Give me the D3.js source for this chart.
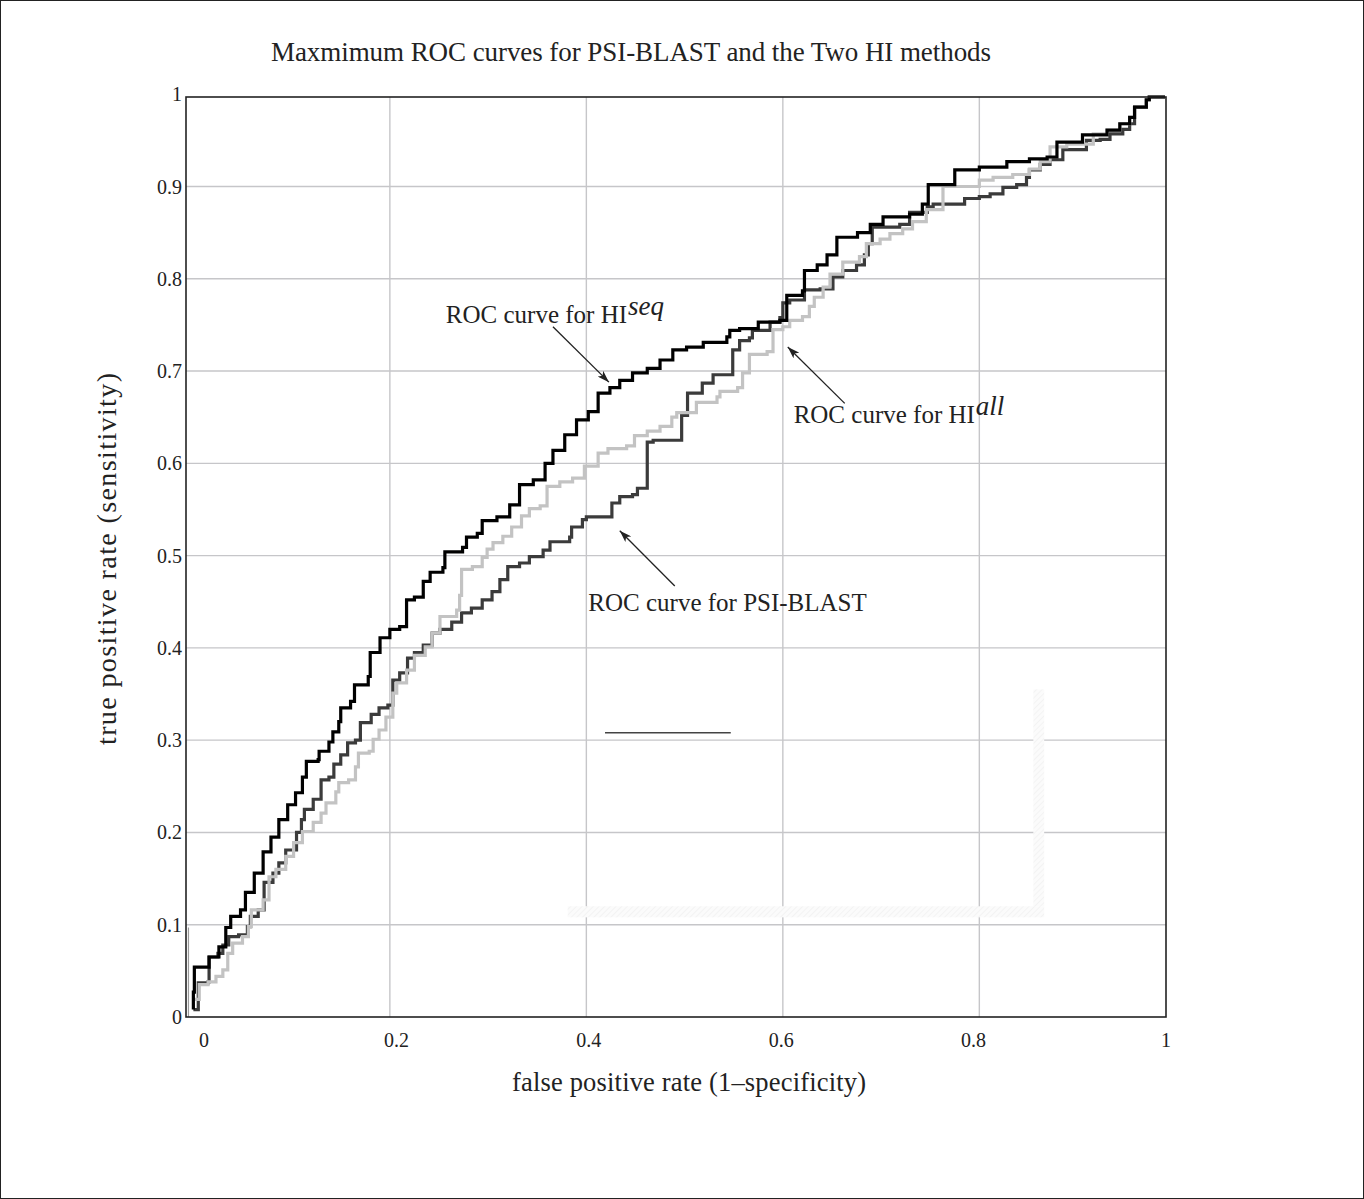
<!DOCTYPE html>
<html>
<head>
<meta charset="utf-8">
<script src="https://cdn.jsdelivr.net/npm/d3@7"></script>
<style>
  body { margin: 0; background: #fff; }
  svg { display: block; }
  text { font-family: "Liberation Serif", "Times New Roman", serif; fill: #222; }
</style>
</head>
<body>
<div id="chart"></div>
<script>
// ROC curve points (false positive rate, true positive rate)
const hiSeqFpr = [0.000, 0.000, 0.001, 0.016, 0.026, 0.033, 0.038, 0.048, 0.053, 0.062, 0.071, 0.079, 0.087, 0.096, 0.104, 0.111, 0.115, 0.127, 0.128, 0.138, 0.142, 0.148, 0.150, 0.160, 0.164, 0.178, 0.180, 0.190, 0.190, 0.200, 0.210, 0.217, 0.217, 0.225, 0.234, 0.241, 0.254, 0.256, 0.274, 0.278, 0.289, 0.294, 0.309, 0.322, 0.332, 0.346, 0.358, 0.366, 0.378, 0.390, 0.402, 0.412, 0.424, 0.434, 0.447, 0.462, 0.475, 0.488, 0.502, 0.519, 0.543, 0.546, 0.556, 0.575, 0.597, 0.604, 0.620, 0.622, 0.635, 0.645, 0.655, 0.676, 0.689, 0.702, 0.729, 0.742, 0.748, 0.775, 0.775, 0.800, 0.828, 0.851, 0.869, 0.879, 0.905, 0.930, 0.943, 0.953, 0.958, 0.970, 0.973, 0.989];
const hiSeqTpr = [0.008, 0.027, 0.054, 0.065, 0.076, 0.097, 0.109, 0.116, 0.135, 0.156, 0.179, 0.195, 0.214, 0.230, 0.243, 0.260, 0.277, 0.279, 0.288, 0.298, 0.309, 0.320, 0.335, 0.342, 0.360, 0.369, 0.395, 0.400, 0.411, 0.420, 0.423, 0.430, 0.452, 0.455, 0.472, 0.482, 0.487, 0.504, 0.509, 0.520, 0.524, 0.538, 0.542, 0.555, 0.577, 0.582, 0.600, 0.614, 0.631, 0.647, 0.656, 0.676, 0.682, 0.690, 0.698, 0.703, 0.712, 0.723, 0.726, 0.731, 0.737, 0.744, 0.746, 0.753, 0.755, 0.782, 0.787, 0.809, 0.815, 0.826, 0.845, 0.850, 0.859, 0.867, 0.870, 0.881, 0.902, 0.903, 0.918, 0.921, 0.927, 0.930, 0.932, 0.948, 0.956, 0.961, 0.968, 0.975, 0.986, 0.994, 0.997, 0.997];

const psiFpr = [0.000, 0.005, 0.005, 0.015, 0.016, 0.025, 0.030, 0.036, 0.046, 0.055, 0.058, 0.066, 0.072, 0.081, 0.087, 0.094, 0.105, 0.110, 0.113, 0.122, 0.130, 0.138, 0.143, 0.150, 0.157, 0.165, 0.170, 0.181, 0.189, 0.198, 0.203, 0.203, 0.210, 0.218, 0.225, 0.234, 0.243, 0.251, 0.263, 0.273, 0.283, 0.294, 0.304, 0.312, 0.320, 0.332, 0.342, 0.356, 0.363, 0.383, 0.385, 0.396, 0.400, 0.424, 0.426, 0.434, 0.447, 0.452, 0.462, 0.462, 0.468, 0.497, 0.497, 0.503, 0.503, 0.518, 0.529, 0.549, 0.549, 0.556, 0.566, 0.569, 0.587, 0.597, 0.600, 0.607, 0.622, 0.622, 0.638, 0.651, 0.661, 0.675, 0.683, 0.687, 0.691, 0.719, 0.729, 0.747, 0.753, 0.783, 0.785, 0.800, 0.811, 0.824, 0.838, 0.848, 0.851, 0.862, 0.872, 0.885, 0.885, 0.909, 0.909, 0.923, 0.933, 0.946, 0.953, 0.958, 0.970, 0.973, 0.989];
const psiTpr = [0.008, 0.015, 0.037, 0.038, 0.065, 0.069, 0.078, 0.087, 0.089, 0.098, 0.109, 0.116, 0.146, 0.156, 0.167, 0.181, 0.200, 0.214, 0.225, 0.236, 0.257, 0.260, 0.274, 0.284, 0.297, 0.300, 0.319, 0.328, 0.335, 0.338, 0.351, 0.365, 0.373, 0.389, 0.395, 0.403, 0.416, 0.420, 0.428, 0.438, 0.443, 0.452, 0.461, 0.474, 0.488, 0.492, 0.499, 0.506, 0.515, 0.520, 0.531, 0.539, 0.542, 0.542, 0.557, 0.564, 0.566, 0.573, 0.574, 0.623, 0.625, 0.625, 0.652, 0.655, 0.676, 0.687, 0.696, 0.699, 0.723, 0.733, 0.736, 0.744, 0.753, 0.758, 0.774, 0.777, 0.780, 0.788, 0.789, 0.802, 0.809, 0.815, 0.826, 0.838, 0.856, 0.859, 0.872, 0.878, 0.881, 0.881, 0.887, 0.889, 0.892, 0.899, 0.902, 0.910, 0.918, 0.924, 0.929, 0.932, 0.940, 0.941, 0.950, 0.951, 0.957, 0.962, 0.968, 0.986, 0.994, 0.997, 0.997];

const hiAllFpr = [0.000, 0.006, 0.015, 0.023, 0.030, 0.035, 0.040, 0.050, 0.056, 0.059, 0.071, 0.077, 0.084, 0.094, 0.102, 0.111, 0.122, 0.130, 0.135, 0.145, 0.148, 0.158, 0.165, 0.168, 0.179, 0.183, 0.189, 0.196, 0.203, 0.207, 0.217, 0.225, 0.236, 0.243, 0.251, 0.268, 0.271, 0.273, 0.284, 0.294, 0.299, 0.305, 0.315, 0.324, 0.334, 0.342, 0.353, 0.360, 0.373, 0.386, 0.398, 0.412, 0.422, 0.441, 0.449, 0.462, 0.475, 0.487, 0.492, 0.512, 0.533, 0.536, 0.554, 0.559, 0.566, 0.584, 0.590, 0.600, 0.607, 0.620, 0.627, 0.632, 0.641, 0.648, 0.661, 0.678, 0.685, 0.699, 0.709, 0.722, 0.732, 0.746, 0.763, 0.763, 0.800, 0.814, 0.834, 0.851, 0.862, 0.872, 0.889, 0.916, 0.930, 0.943, 0.953, 0.958, 0.970, 0.973, 0.989];
const hiAllTpr = [0.019, 0.035, 0.038, 0.044, 0.051, 0.069, 0.080, 0.087, 0.098, 0.116, 0.127, 0.152, 0.160, 0.174, 0.189, 0.201, 0.211, 0.221, 0.232, 0.244, 0.254, 0.257, 0.271, 0.286, 0.288, 0.301, 0.311, 0.325, 0.351, 0.362, 0.376, 0.392, 0.401, 0.416, 0.434, 0.441, 0.457, 0.485, 0.488, 0.498, 0.507, 0.514, 0.521, 0.531, 0.543, 0.551, 0.554, 0.575, 0.580, 0.584, 0.597, 0.611, 0.616, 0.619, 0.630, 0.635, 0.640, 0.650, 0.655, 0.666, 0.672, 0.678, 0.682, 0.698, 0.718, 0.721, 0.745, 0.748, 0.755, 0.759, 0.770, 0.780, 0.791, 0.805, 0.818, 0.824, 0.838, 0.843, 0.849, 0.854, 0.862, 0.875, 0.878, 0.900, 0.907, 0.910, 0.913, 0.919, 0.927, 0.943, 0.946, 0.957, 0.961, 0.968, 0.975, 0.986, 0.994, 0.997, 0.997];

const xTicks = [0, 0.2, 0.4, 0.6, 0.8, 1];
const yTicks = [0, 0.1, 0.2, 0.3, 0.4, 0.5, 0.6, 0.7, 0.8, 0.9, 1];
const xTickLabels = ['0', '0.2', '0.4', '0.6', '0.8', '1'];
const yTickLabels = ['0', '0.1', '0.2', '0.3', '0.4', '0.5', '0.6', '0.7', '0.8', '0.9', '1'];

const title = 'Maxmimum ROC curves for PSI-BLAST and the Two HI methods';
const xTitle = 'false positive rate (1\u2013specificity)';
const yTitle = 'true positive rate (sensitivity)';

const W = 1364, H = 1199;
const plot = { left: 186, right: 1166, top: 97, bottom: 1017 };

const svg = d3.select('#chart').append('svg')
  .attr('width', W)
  .attr('height', H);

svg.append('rect')
  .attr('x', 0.5).attr('y', 0.5)
  .attr('width', W - 1).attr('height', H - 1)
  .attr('fill', '#fff')
  .attr('stroke', '#222');

// the printed figure's frame runs a little past 0 and stops just short of 1
const x = d3.scaleLinear().domain([-0.0075, 0.99]).range([plot.left, plot.right]);
const y = d3.scaleLinear().domain([0, 0.997]).range([plot.bottom, plot.top]);
// tick text sits slightly off the grid in the original
const xLabel = d3.scaleLinear().domain([0, 1]).range([204, 1166]);

// grid
const grid = svg.append('g').attr('class', 'grid');
grid.selectAll('.vgrid')
  .data(xTicks.filter(d => d > 0 && d < 1))
  .enter().append('line')
  .attr('class', 'vgrid')
  .attr('x1', d => x(d)).attr('x2', d => x(d))
  .attr('y1', plot.top).attr('y2', plot.bottom)
  .attr('stroke', '#c6c6c9').attr('stroke-width', 1.4);

grid.selectAll('.hgrid')
  .data(yTicks.filter(d => d > 0 && d < 1))
  .enter().append('line')
  .attr('class', 'hgrid')
  .attr('x1', plot.left).attr('x2', plot.right)
  .attr('y1', d => y(d)).attr('y2', d => y(d))
  .attr('stroke', '#c6c6c9').attr('stroke-width', 1.4);

// faint scan leftovers inside the plot
const defs = svg.append('defs');
const hatch = defs.append('pattern')
  .attr('id', 'hatch')
  .attr('width', 4).attr('height', 4)
  .attr('patternUnits', 'userSpaceOnUse')
  .attr('patternTransform', 'rotate(45)');
hatch.append('rect').attr('width', 4).attr('height', 4).attr('fill', '#fbfbfb');
hatch.append('line').attr('x1', 0).attr('y1', 0).attr('x2', 0).attr('y2', 4)
  .attr('stroke', '#f1f1f1').attr('stroke-width', 1.5);

const ghost = svg.append('g').attr('class', 'ghost');
ghost.append('rect')
  .attr('x', x(0.381)).attr('y', y(0.120))
  .attr('width', x(0.866) - x(0.381)).attr('height', y(0.108) - y(0.120))
  .attr('fill', 'url(#hatch)');
ghost.append('rect')
  .attr('x', x(0.855)).attr('y', y(0.355))
  .attr('width', x(0.866) - x(0.855)).attr('height', y(0.120) - y(0.355))
  .attr('fill', 'url(#hatch)');
ghost.append('line')
  .attr('x1', x(0.419)).attr('x2', x(0.547))
  .attr('y1', y(0.308)).attr('y2', y(0.308))
  .attr('stroke', '#444').attr('stroke-width', 1.6);
ghost.append('line')
  .attr('x1', x(-0.005)).attr('x2', x(-0.005))
  .attr('y1', y(0.097)).attr('y2', y(0.0))
  .attr('stroke', '#999').attr('stroke-width', 1.2);

// curves
svg.append('clipPath').attr('id', 'clip')
  .append('rect')
  .attr('x', plot.left).attr('y', plot.top - 2)
  .attr('width', plot.right - plot.left).attr('height', plot.bottom - plot.top + 2);

const line = d3.line()
  .x(d => x(d[0]))
  .y(d => y(d[1]))
  .curve(d3.curveStepAfter);

const series = [
  { name: 'PSI-BLAST', fpr: psiFpr, tpr: psiTpr, color: '#3b3b3b' },
  { name: 'HIall', fpr: hiAllFpr, tpr: hiAllTpr, color: '#c3c3c3' },
  { name: 'HIseq', fpr: hiSeqFpr, tpr: hiSeqTpr, color: '#000' },
];

svg.append('g').attr('clip-path', 'url(#clip)')
  .selectAll('.roc')
  .data(series)
  .enter().append('path')
  .attr('class', 'roc')
  .attr('fill', 'none')
  .attr('stroke', d => d.color)
  .attr('stroke-width', 3.2)
  .attr('stroke-linejoin', 'miter')
  .attr('d', d => line(d.fpr.map((v, i) => [v, d.tpr[i]])));

// frame
svg.append('rect')
  .attr('x', plot.left).attr('y', plot.top)
  .attr('width', plot.right - plot.left).attr('height', plot.bottom - plot.top)
  .attr('fill', 'none')
  .attr('stroke', '#222').attr('stroke-width', 1.6);

// tick labels
svg.append('g').selectAll('text')
  .data(yTicks)
  .enter().append('text')
  .attr('x', plot.left - 4)
  .attr('y', d => y(d))
  .attr('dy', '0.35em')
  .attr('text-anchor', 'end')
  .attr('font-size', 20)
  .text((d, i) => yTickLabels[i]);

svg.append('g').selectAll('text')
  .data(xTicks)
  .enter().append('text')
  .attr('x', d => xLabel(d))
  .attr('y', 1047)
  .attr('text-anchor', 'middle')
  .attr('font-size', 20)
  .text((d, i) => xTickLabels[i]);

// titles
svg.append('text')
  .attr('x', 271).attr('y', 61)
  .attr('font-size', 27)
  .attr('textLength', 720)
  .attr('lengthAdjust', 'spacing')
  .text(title);

svg.append('text')
  .attr('x', 512).attr('y', 1091)
  .attr('font-size', 26.5)
  .attr('textLength', 354)
  .attr('lengthAdjust', 'spacing')
  .text(xTitle);

svg.append('text')
  .attr('transform', 'translate(116,745) rotate(-90)')
  .attr('font-size', 28)
  .attr('textLength', 372)
  .attr('lengthAdjust', 'spacing')
  .text(yTitle);

// annotations
defs.append('marker')
  .attr('id', 'head')
  .attr('viewBox', '0 0 12 8')
  .attr('refX', 12).attr('refY', 4)
  .attr('markerWidth', 12).attr('markerHeight', 8)
  .attr('markerUnits', 'userSpaceOnUse')
  .attr('orient', 'auto')
  .append('path')
  .attr('d', 'M0,0 L12,4 L0,8 L3,4 Z')
  .attr('fill', '#222');

const notes = [
  { text: 'ROC curve for HI', sup: 'seq', tx: 0.257, ty: 0.752, from: [0.366, 0.748], to: [0.423, 0.688] },
  { text: 'ROC curve for HI', sup: 'all', tx: 0.611, ty: 0.644, from: [0.663, 0.665], to: [0.605, 0.726] },
  { text: 'ROC curve for PSI-BLAST', sup: null, tx: 0.402, ty: 0.440, from: [0.490, 0.467], to: [0.434, 0.527] },
];

const note = svg.append('g').selectAll('g')
  .data(notes)
  .enter().append('g');

note.append('line')
  .attr('x1', d => x(d.from[0])).attr('y1', d => y(d.from[1]))
  .attr('x2', d => x(d.to[0])).attr('y2', d => y(d.to[1]))
  .attr('stroke', '#222').attr('stroke-width', 1.3)
  .attr('marker-end', 'url(#head)');

const label = note.append('text')
  .attr('x', d => x(d.tx)).attr('y', d => y(d.ty))
  .attr('font-size', 25);
label.append('tspan').text(d => d.text);
label.filter(d => d.sup)
  .append('tspan')
  .attr('dx', 1)
  .attr('dy', -8)
  .attr('font-style', 'italic')
  .attr('font-size', 27)
  .text(d => d.sup);
</script>
</body>
</html>
